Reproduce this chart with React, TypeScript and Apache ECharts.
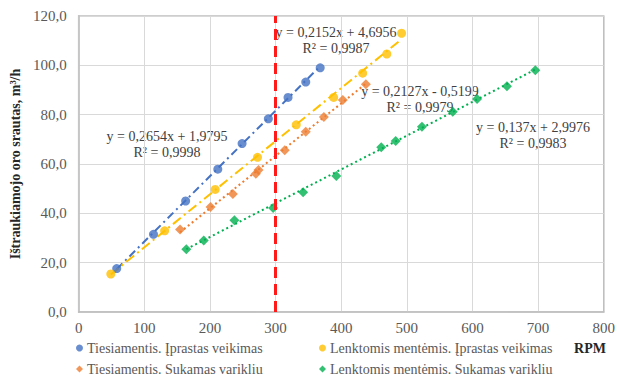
import React, { useEffect, useRef } from "react";
import * as echarts from "echarts";

const seriesNames = [
  "Tiesiamentis. Įprastas veikimas",
  "Lenktomis mentėmis. Įprastas veikimas",
  "Tiesiamentis. Sukamas varikliu",
  "Lenktomis mentėmis. Sukamas varikliu",
];
const blueX = [58, 114, 163, 212, 249, 289, 319, 346, 368];
const blueY = [17.6, 31.5, 45.0, 57.9, 68.3, 78.3, 87.0, 93.2, 99.0];
const yellowX = [49, 131, 208, 272.5, 331.5, 388.5, 432.7, 469.5, 492];
const yellowY = [15.4, 32.9, 49.7, 62.7, 75.9, 87.0, 96.8, 104.6, 113.0];
const orangeX = [154.5, 201, 235, 270, 274, 314, 346, 373.6, 402.5, 437.6];
const orangeY = [33.4, 42.6, 47.8, 56.0, 57.6, 65.6, 73.1, 79.1, 85.9, 92.3];
const greenX = [164, 190.6, 237.3, 296.3, 342, 392.6, 461, 483, 523, 570, 607, 652.5, 695.7];
const greenY = [25.4, 29.0, 37.2, 42.2, 48.5, 55.1, 66.8, 69.3, 75.1, 81.2, 86.4, 91.5, 98.0];

const slopes = [0.2654, 0.2152, 0.2127, 0.137];
const intercepts = [1.9795, 4.6956, -0.5199, 2.9976];
const r2s = [0.9998, 0.9987, 0.9979, 0.9983];
const refRpm = 300;

const colors = ["#4472C4", "#FFC000", "#ED7D31", "#00B050"];
const symbols = ["circle", "circle", "diamond", "diamond"];
const dashes: any[] = [[8, 4, 2, 4], [10, 4, 2, 4], [2, 3], [2, 3]];
// label positions (px) for equations
const labelPos = [
  [167, 136],
  [336, 32],
  [420, 91],
  [533, 127],
];

const FONT = "'Liberation Serif', 'Times New Roman', serif";
const fmt = (v: number) => String(v).replace(".", ",");

export default function App() {
  const ref = useRef<HTMLDivElement>(null);
  useEffect(() => {
    const chart = echarts.init(ref.current!, undefined, { renderer: "svg" });
    const xs = [blueX, yellowX, orangeX, greenX];
    const ys = [blueY, yellowY, orangeY, greenY];
    const scatter = xs.map((xArr, i) => ({
      name: seriesNames[i],
      type: "scatter",
      symbol: symbols[i],
      symbolSize: symbols[i] === "circle" ? 9 : 10,
      itemStyle: { color: colors[i] },
      z: 3,
      data: xArr.map((x, j) => [x, ys[i][j]]),
    }));
    const trends = xs.map((xArr, i) => {
      const mn = Math.min(...xArr);
      const mx = Math.max(...xArr);
      return {
        name: "trend" + i,
        type: "line",
        symbol: "none",
        z: 2,
        lineStyle: { color: colors[i], width: 2, type: dashes[i] },
        data: [
          [mn, slopes[i] * mn + intercepts[i]],
          [mx, slopes[i] * mx + intercepts[i]],
        ],
      };
    });
    const refLine = {
      name: "ref",
      type: "line",
      data: [],
      z: 5,
      markLine: {
        silent: true,
        symbol: ["none", "none"],
        label: { show: false },
        lineStyle: { color: "#FF1A1A", width: 3, type: [11, 6] },
        data: [{ xAxis: refRpm }],
      },
    };
    const legendPos = [
      [76, 341],
      [319, 341],
      [76, 362],
      [319, 362],
    ];
    const legends = seriesNames.map((n, i) => ({
      data: [{ name: n, icon: symbols[i] }],
      left: legendPos[i][0],
      top: legendPos[i][1],
      itemWidth: 7,
      itemHeight: 7,
      itemGap: 4,
      textStyle: { fontFamily: FONT, fontSize: 14, color: "#595959", padding: [0, 0, 0, -1] },
      padding: 0,
    }));
    const graphics: any[] = [];
    labelPos.forEach((p, i) => {
      const b = intercepts[i];
      graphics.push({
        type: "text",
        x: p[0],
        y: p[1],
        style: {
          text: `y = ${fmt(slopes[i])}x ${b < 0 ? "-" : "+"} ${fmt(Math.abs(b))}`,
          font: `14px ${FONT}`,
          fill: "#404040",
          textAlign: "center",
          textVerticalAlign: "middle",
        },
      });
      graphics.push({
        type: "text",
        x: p[0],
        y: p[1] + 16,
        style: {
          text: `R² = ${fmt(r2s[i])}`,
          font: `14px ${FONT}`,
          fill: "#404040",
          textAlign: "center",
          textVerticalAlign: "middle",
        },
      });
    });
    graphics.push({
      type: "text",
      x: 590,
      y: 348,
      style: {
        text: "RPM",
        font: `bold 14px ${FONT}`,
        fill: "#262626",
        textAlign: "center",
        textVerticalAlign: "middle",
      },
    });
    chart.setOption({
      animation: false,
      grid: {
        left: 71,
        right: 9,
        top: 16,
        bottom: 64,
        show: true,
        borderColor: "#BFBFBF",
        borderWidth: 1.5,
      },
      xAxis: {
        type: "value",
        min: 0,
        max: 800,
        interval: 100,
        axisLine: { show: true, lineStyle: { color: "#BFBFBF", width: 1.5 } },
        axisTick: { show: false },
        splitLine: { lineStyle: { color: "#D9D9D9", width: 1 } },
        axisLabel: { fontFamily: FONT, fontSize: 15, color: "#595959", margin: 8 },
      },
      yAxis: {
        type: "value",
        min: 0,
        max: 120,
        interval: 20,
        name: "Ištraukiamojo oro srautas, m³/h",
        nameLocation: "middle",
        nameGap: 47,
        nameTextStyle: { fontFamily: FONT, fontSize: 14, fontWeight: "bold", color: "#262626" },
        axisLine: { show: true, lineStyle: { color: "#BFBFBF", width: 1.5 } },
        axisTick: { show: false },
        splitLine: { lineStyle: { color: "#D9D9D9", width: 1 } },
        axisLabel: {
          fontFamily: FONT,
          fontSize: 15,
          color: "#595959",
          margin: 12,
          formatter: (v: number) => v.toFixed(1).replace(".", ","),
        },
      },
      legend: legends,
      series: [...trends, ...scatter, refLine],
      graphic: graphics,
    });
    return () => chart.dispose();
  }, []);
  return (
    <div
      ref={ref}
      style={{ position: "fixed", left: 0, top: 0, width: 618, height: 376, background: "#fff" }}
    />
  );
}
